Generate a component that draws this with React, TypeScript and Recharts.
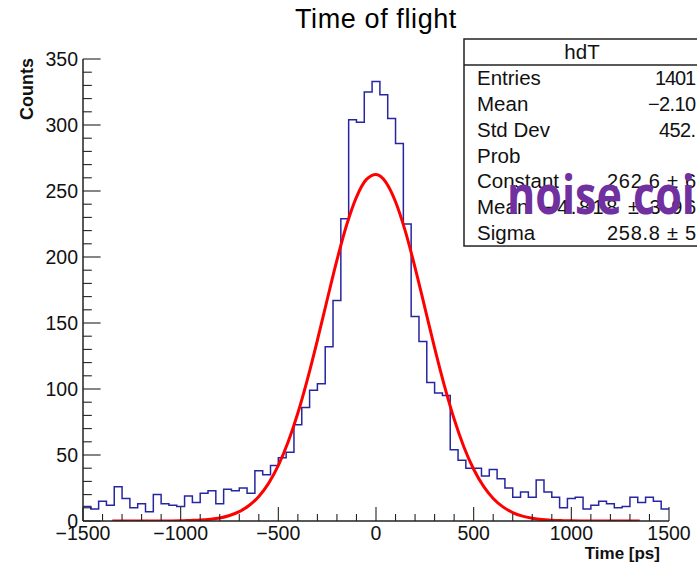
import React from 'react';
import { ComposedChart, Line, XAxis, YAxis } from 'recharts';

// ---- data ----
const binStart = -1500;
const binWidth = 40;
const counts = [
  11, 9, 15, 12, 26, 17, 10, 13, 7, 20, 13, 12, 11, 19, 14, 21, 23, 13, 24, 23,
  25, 21, 38, 35, 42, 48, 52, 73, 86, 99, 104,
  132, 167, 229, 304, 302, 325, 333, 323, 305, 286, 225, 155, 136, 105,
  97, 95, 54, 46, 40, 40, 34, 39, 32, 25, 18,
  22, 18, 31, 22, 18, 10, 17, 18, 9, 12, 15, 13, 10, 11, 18, 14, 18, 15, 9,
];

const fitX = [
  -1350, -1300, -1250, -1200, -1150, -1100, -1050, -1000, -950, -900, -850, -800,
  -750, -700, -650, -600, -550, -500, -450, -400, -350, -300, -250, -200, -150,
  -100, -50, 0, 50, 100, 150, 200, 250, 300, 350, 400, 450, 500, 550, 600, 650,
  700, 750, 800, 850, 900, 950, 1000, 1050, 1100, 1150, 1200, 1250, 1300, 1350,
];
const fitY = [
  0, 0, 0, 0, 0, 0, 0, 0.1, 0.4, 0.7, 1.3, 2.3,
  4.2, 7.1, 11.7, 18.6, 28.5, 42.1, 59.8, 81.8, 107.9, 137.0, 167.6, 197.6, 224.4,
  245.4, 258.6, 262.5, 256.8, 241.9, 219.6, 192.0, 161.7, 131.2, 102.6, 77.3, 56.1, 39.2, 26.4, 17.1, 10.7,
  6.4, 3.7, 2.1, 1.1, 0.6, 0.3, 0.1, 0, 0, 0, 0, 0, 0, 0,
];

const xTicks = [
  -1500, -1400, -1300, -1200, -1100, -1000, -900, -800, -700, -600, -500, -400,
  -300, -200, -100, 0, 100, 200, 300, 400, 500, 600, 700, 800, 900, 1000, 1100,
  1200, 1300, 1400, 1500,
];
const xMajorTicks = [-1500, -1000, -500, 0, 500, 1000, 1500];
const yTicks = [
  0, 10, 20, 30, 40, 50, 60, 70, 80, 90, 100, 110, 120, 130, 140, 150, 160, 170,
  180, 190, 200, 210, 220, 230, 240, 250, 260, 270, 280, 290, 300, 310, 320, 330,
  340, 350,
];
const yMajorTicks = [0, 50, 100, 150, 200, 250, 300, 350];

const titleText = 'Time of flight';
const xTitle = 'Time [ps]';
const yTitle = 'Counts';
const statsTitle = 'hdT';
const statsLabels = ['Entries', 'Mean', 'Std Dev', 'Prob', 'Constant', 'Mean', 'Sigma'];
// visible parts of the stats values (the box runs off the right edge of the picture)
const statsValues = ['1401', '\u22122.10', '452.', '', '262.6 \u00b1 6', '\u22124.818 \u00b1 3.96', '258.8 \u00b1 5'];
const overlayText = 'noise coi';

// ---- tables built for the library ----
const histData = counts
  .map((c, i) => ({ x: binStart + i * binWidth, y: c }))
  .concat([{ x: binStart + counts.length * binWidth, y: counts[counts.length - 1] }]);
const fitData = fitX.map((x, i) => ({ x, y: fitY[i] }));

// ---- layout / style ----
const W = 697;
const H = 566;
const FONT = '"Liberation Sans", Arial, Helvetica, sans-serif';
const statsValueStart = [655, 648, 659, 0, 607, 543, 607];
const statsValueEnd = 696;

const fmt = (v: number) => (v < 0 ? '\u2212' + Math.abs(v) : String(v));

const YTick = (props: any) => {
  const { x, y, payload } = props;
  const v = payload.value as number;
  const major = yMajorTicks.includes(v);
  return (
    <g>
      <line x1={x} x2={x + (major ? 17.6 : 8.8)} y1={y} y2={y} stroke="#222" strokeWidth={1.1} />
      {major && (
        <text x={x - 5} y={y} dy={6.8} textAnchor="end" fontSize={19.5} fontFamily={FONT} fill="#111">
          {fmt(v)}
        </text>
      )}
    </g>
  );
};

const XTick = (props: any) => {
  const { x, y, payload } = props;
  const v = payload.value as number;
  const major = xMajorTicks.includes(v);
  return (
    <g>
      <line x1={x} x2={x} y1={y} y2={y - (major ? 13.9 : 7)} stroke="#222" strokeWidth={1.1} />
      {major && (
        <text x={x} y={y + 19} textAnchor="middle" fontSize={19.5} fontFamily={FONT} fill="#111">
          {fmt(v)}
        </text>
      )}
    </g>
  );
};

export default function App() {
  const rowH = 25.86;
  const boxTop = 39;
  const headH = 26;
  return (
    <div style={{ position: 'absolute', left: 0, top: 0, width: W, height: H, background: '#fff', overflow: 'hidden' }}>
      <ComposedChart width={W} height={H} margin={{ top: 59, right: 28, bottom: 0, left: 0 }}>
        <XAxis
          xAxisId={0}
          dataKey="x"
          type="number"
          domain={[-1500, 1500]}
          allowDataOverflow
          ticks={xTicks}
          interval={0}
          tickSize={0}
          tickMargin={0}
          tickLine={false}
          height={45}
          axisLine={{ stroke: '#222', strokeWidth: 1.5 }}
          tick={<XTick />}
        />
        <XAxis
          xAxisId="top"
          orientation="top"
          type="number"
          domain={[-1500, 1500]}
          height={0}
          tick={false}
          tickLine={false}
          axisLine={{ stroke: '#555', strokeWidth: 1.2 }}
        />
        <YAxis
          yAxisId={0}
          type="number"
          domain={[0, 350]}
          allowDataOverflow
          ticks={yTicks}
          interval={0}
          tickSize={0}
          tickMargin={0}
          tickLine={false}
          width={83}
          axisLine={{ stroke: '#222', strokeWidth: 1.5 }}
          tick={<YTick />}
        />
        <YAxis
          yAxisId="right"
          orientation="right"
          type="number"
          domain={[0, 350]}
          width={0}
          tick={false}
          tickLine={false}
          axisLine={{ stroke: '#555', strokeWidth: 1.2 }}
        />
        <Line
          data={histData}
          dataKey="y"
          xAxisId={0}
          yAxisId={0}
          type="stepAfter"
          stroke="#2626a0"
          strokeWidth={1.5}
          dot={false}
          activeDot={false}
          isAnimationActive={false}
        />
        <Line
          data={fitData}
          dataKey="y"
          xAxisId={0}
          yAxisId={0}
          type="monotone"
          stroke="#ff0000"
          strokeWidth={3}
          dot={false}
          activeDot={false}
          isAnimationActive={false}
        />
      </ComposedChart>
      <svg
        width={W}
        height={H}
        style={{ position: 'absolute', left: 0, top: 0, pointerEvents: 'none' }}
      >
        <text x={376} y={28} textAnchor="middle" fontSize={27} letterSpacing={0.6} fontFamily={FONT} fill="#000">
          {titleText}
        </text>
        <text
          transform="translate(33,58) rotate(-90)"
          textAnchor="end"
          fontSize={18}
          fontWeight="bold"
          fontFamily={FONT}
          fill="#111"
        >
          {yTitle}
        </text>
        <text x={660} y={559} textAnchor="end" fontSize={17} fontWeight="bold" fontFamily={FONT} fill="#111">
          {xTitle}
        </text>
        <rect x={464} y={boxTop} width={260} height={headH + rowH * 7} fill="#fff" stroke="#222" strokeWidth={1.5} />
        <line x1={464} x2={724} y1={boxTop + headH} y2={boxTop + headH} stroke="#222" strokeWidth={1.5} />
        <text x={582} y={boxTop + headH / 2 + 7} textAnchor="middle" fontSize={20.5} fontFamily={FONT} fill="#111">
          {statsTitle}
        </text>
        {statsLabels.map((lab, i) => {
          const cy = boxTop + headH + rowH * (i + 0.5);
          return (
            <g key={i}>
              <text x={477} y={cy + 7} fontSize={20.5} fontFamily={FONT} fill="#111">
                {lab}
              </text>
              {statsValues[i] && (
                <text
                  x={statsValueStart[i]}
                  y={cy + 7}
                  fontSize={20}
                  fontFamily={FONT}
                  fill="#111"
                  textLength={statsValueEnd - statsValueStart[i]}
                  lengthAdjust="spacing"
                >
                  {statsValues[i]}
                </text>
              )}
            </g>
          );
        })}
        <text
          transform="translate(507,214) scale(1,1.2)"
          fontSize={44}
          fontWeight="bold"
          fontFamily='"Open Sans", "Noto Sans", sans-serif'
          fill="#7030a0"
          textLength={188}
          lengthAdjust="spacingAndGlyphs"
        >
          {overlayText}
        </text>
      </svg>
    </div>
  );
}
